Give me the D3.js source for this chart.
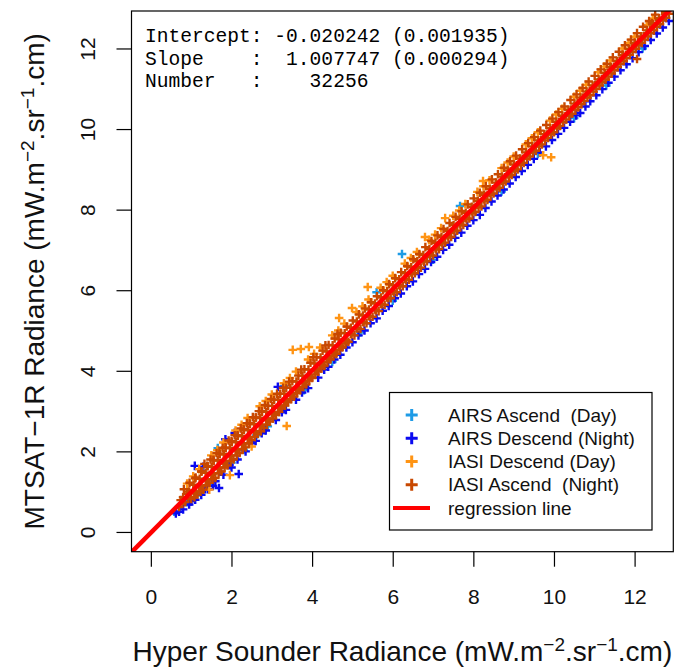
<!DOCTYPE html>
<html>
<head>
<meta charset="utf-8">
<script src="https://cdn.jsdelivr.net/npm/d3@7"></script>
<style>
  body { margin: 0; background: #fff; }
  svg { display: block; font-family: "Liberation Sans", Arial, sans-serif; }
</style>
</head>
<body>
<svg id="chart" width="675" height="667"></svg>
<script>
// regression summary shown in the top-left corner
const intercept = -0.020242, interceptSE = 0.001935;
const slope = 1.007747, slopeSE = 0.000294;
const nPoints = 32256;

const xTicks = [0, 2, 4, 6, 8, 10, 12];
const yTicks = [0, 2, 4, 6, 8, 10, 12];

const seriesNames = ["AIRS Ascend  (Day)", "AIRS Descend (Night)", "IASI Descend (Day)", "IASI Ascend  (Night)"];
const seriesColors = ["#1e9be6", "#0a0af0", "#ff9414", "#c84800"];

// points (hyper sounder, MTSAT-1R)
const airsAscend = [
  [0.58,0.5],[0.72,0.6],[0.9,0.74],[1.4,1.15],[1.66,2.08],[1.5,1.26],[2.3,2.04],[2.62,2.4],[2.9,2.62],
  [3.3,3.62],[3.8,3.52],[4.5,4.22],[5.2,4.95],[5.6,5.95],[6.0,5.74],[6.23,6.9],[7.0,6.76],[7.67,8.09],
  [8.7,8.45],[9.6,9.38],[10.5,10.27],[11.3,11.08],[12.2,12.0],[1.2,0.98],[2.0,1.72]
];
const airsDescend = [
  [0.62,0.46],[0.8,0.56],[0.95,0.68],[1.1,0.8],[1.25,0.92],[1.42,1.06],[1.54,1.14],[1.69,1.09],[1.6,1.26],
  [1.8,1.42],[2.0,1.6],[2.18,1.44],[2.15,1.8],[2.35,2.0],[2.6,2.26],[2.85,2.52],[3.1,2.78],[3.35,3.03],
  [3.6,3.28],[3.9,3.57],[4.15,3.83],[4.4,4.1],[4.7,4.4],[5.0,4.71],[5.3,5.0],[5.6,5.3],[5.9,5.61],
  [6.2,5.92],[6.5,6.22],[6.8,6.53],[7.1,6.83],[7.4,7.13],[7.7,7.43],[8.0,7.74],[8.16,7.87],[8.3,8.04],
  [8.6,8.35],[8.9,8.65],[9.2,8.96],[9.5,9.26],[9.8,9.57],[10.1,9.88],[10.4,10.18],[10.65,10.4],[10.9,10.69],
  [11.2,10.99],[11.5,11.3],[11.8,11.61],[12.1,11.91],[12.4,12.21],[12.7,12.52],
  [1.09,1.64],[2.08,2.46],[3.15,3.6],[1.85,2.3],[1.3,1.62],
  [0.7,0.5],[1.0,0.76],[1.35,1.06],[1.95,1.66],[2.5,2.2],[2.75,2.45],[3.25,2.97],[3.75,3.46],[4.3,4.03],
  [4.55,4.28],[4.85,4.58],[5.15,4.88],[5.45,5.18],[5.75,5.49],[6.05,5.8],[6.35,6.1],[6.65,6.4],[6.95,6.7],
  [7.25,7.0],[7.55,7.3],[7.85,7.6],[8.45,8.2],[8.75,8.5],[9.05,8.81],[9.35,9.11],[9.65,9.42],[9.95,9.73],
  [10.25,10.03],[10.55,10.34],[10.78,10.56],[11.05,10.84],[11.35,11.15],[11.65,11.46],[11.95,11.76],
  [12.25,12.06],[12.55,12.37],[12.85,12.68]
];
const iasiDescend = [
  [0.9,1.2],[1.2,1.56],[1.5,1.9],[1.8,2.22],[2.1,2.52],[2.4,2.83],[2.7,3.12],[3.0,3.41],[3.3,3.69],
  [3.52,4.52],[3.72,4.54],[3.92,4.59],[3.6,3.98],[3.9,4.28],[4.2,4.58],[4.5,4.88],[4.67,5.31],[4.8,5.17],
  [4.99,5.56],[5.1,5.46],[5.38,6.08],[5.4,5.77],[5.7,6.06],[6.0,6.36],[6.3,6.66],[6.6,6.95],[6.8,7.32],
  [6.9,7.25],[7.2,7.54],[7.3,7.79],[7.5,7.85],[7.8,8.14],[8.1,8.44],[8.24,8.71],[8.4,8.73],[8.7,9.03],
  [9.0,9.32],[9.3,9.62],[9.6,9.92],[9.73,9.35],[9.93,9.3],[9.9,10.21],[10.2,10.5],[10.5,10.8],[10.8,11.1],
  [11.1,11.41],[11.4,11.7],[11.7,12.0],[12.0,12.29],[12.3,12.58],[3.37,2.63],[1.96,1.41],[2.5,2.12],[1.45,1.05],
  [1.05,1.38],[1.65,2.03],[2.25,2.66],[2.85,3.25],[3.45,3.82],[4.05,4.42],[4.65,5.0],[5.25,5.6],[5.85,6.2],
  [6.45,6.8],[7.05,7.38],[7.65,7.98],[8.25,8.58],[8.85,9.17],[9.45,9.77],[10.05,10.36],[10.65,10.95],
  [11.25,11.55],[11.85,12.14],[12.45,12.74]
];
const iasiAscend = [
  [0.7,0.62],[0.74,0.79],
  [0.85,0.74],[0.9,0.95],[0.82,1.06],
  [1.0,0.82],[1.05,1.03],[0.96,1.22],
  [1.15,0.93],[1.2,1.13],[1.11,1.35],
  [1.3,1.05],[1.36,1.28],[1.26,1.5],[1.33,1.69],
  [1.45,1.22],[1.5,1.42],[1.41,1.63],[1.48,1.8],
  [1.6,1.34],[1.66,1.57],[1.56,1.77],[1.63,1.96],
  [1.75,1.5],[1.8,1.7],[1.71,1.93],[1.78,2.09],
  [1.9,1.65],[1.96,1.88],[1.86,2.08],[1.93,2.27],
  [2.05,1.8],[2.1,2.02],[2.01,2.23],[2.08,2.4],
  [2.2,1.96],[2.26,2.17],[2.16,2.38],[2.23,2.57],
  [2.35,2.1],[2.4,2.32],[2.31,2.53],[2.38,2.7],
  [2.5,2.28],[2.56,2.48],[2.46,2.68],[2.53,2.85],
  [2.65,2.43],[2.7,2.63],[2.61,2.84],[2.68,3.0],
  [2.8,2.58],[2.86,2.78],[2.76,2.98],[2.83,3.15],
  [2.95,2.74],[3.0,2.94],[2.91,3.13],[2.98,3.3],
  [3.1,2.9],[3.16,3.08],[3.06,3.28],[3.13,3.43],
  [3.25,3.06],[3.3,3.24],[3.21,3.43],[3.28,3.58],
  [3.4,3.22],[3.46,3.4],[3.36,3.58],[3.43,3.73],
  [3.55,3.36],[3.6,3.54],[3.51,3.74],
  [3.7,3.52],[3.76,3.7],[3.66,3.88],[3.73,4.03],
  [3.85,3.66],[3.9,3.86],[3.81,4.04],
  [4.0,3.82],[4.06,4.0],[3.96,4.2],[4.03,4.34],
  [4.15,3.98],[4.2,4.16],[4.11,4.34],
  [4.3,4.12],[4.36,4.3],[4.26,4.5],[4.33,4.63],
  [4.45,4.28],[4.5,4.46],[4.41,4.64],
  [4.6,4.42],[4.66,4.6],[4.56,4.8],[4.63,4.92],
  [4.75,4.58],[4.8,4.76],[4.71,4.94],
  [4.9,4.72],[4.96,4.92],[4.86,5.1],
  [5.05,4.88],[5.1,5.06],[5.01,5.25],
  [5.2,5.04],[5.26,5.22],[5.16,5.4],
  [5.35,5.18],[5.4,5.36],[5.31,5.55],
  [5.5,5.34],[5.56,5.52],[5.46,5.7],
  [5.65,5.48],[5.7,5.66],[5.61,5.85],
  [5.8,5.64],[5.86,5.82],[5.76,6.0],
  [5.95,5.8],[6.0,5.98],[5.91,6.15],
  [6.1,5.95],[6.16,6.13],[6.06,6.3],
  [6.25,6.1],[6.3,6.28],[6.21,6.45],
  [6.4,6.26],[6.46,6.44],[6.36,6.6],
  [6.55,6.42],[6.6,6.58],[6.51,6.77],
  [6.7,6.56],[6.76,6.74],[6.66,6.9],
  [6.85,6.72],[6.9,6.9],[6.81,7.07],
  [7.0,6.86],[7.06,7.04],[6.96,7.22],
  [7.15,7.02],[7.2,7.2],[7.11,7.36],
  [7.3,7.18],[7.36,7.36],[7.26,7.52],
  [7.45,7.32],[7.5,7.5],[7.41,7.67],
  [7.6,7.48],[7.66,7.66],[7.56,7.82],
  [7.75,7.62],[7.8,7.8],[7.71,7.96],
  [7.9,7.78],[7.96,7.96],[7.86,8.13],
  [8.05,7.94],[8.1,8.12],[8.01,8.28],
  [8.2,8.08],[8.26,8.26],[8.16,8.42],
  [8.35,8.24],[8.4,8.42],[8.31,8.58],
  [8.5,8.4],[8.56,8.58],[8.46,8.75],
  [8.65,8.54],[8.7,8.72],[8.61,8.88],
  [8.8,8.7],[8.86,8.88],[8.76,9.04],
  [8.95,8.86],[9.0,9.02],[8.91,9.2],
  [9.1,9.0],[9.16,9.18],[9.06,9.34],
  [9.25,9.16],[9.3,9.34],[9.21,9.5],
  [9.4,9.32],[9.46,9.48],[9.36,9.65],
  [9.55,9.46],[9.6,9.64],[9.51,9.8],
  [9.7,9.62],[9.76,9.8],[9.66,9.96],
  [9.85,9.78],[9.9,9.94],[9.81,10.1],
  [10.0,9.92],[10.06,10.1],[9.96,10.26],
  [10.15,10.08],[10.2,10.26],[10.11,10.42],
  [10.3,10.24],[10.36,10.4],[10.26,10.56],
  [10.45,10.38],[10.5,10.56],[10.41,10.72],
  [10.6,10.54],[10.66,10.72],[10.56,10.86],
  [10.75,10.7],[10.8,10.86],[10.71,11.02],
  [10.9,10.84],[10.96,11.02],[10.86,11.18],
  [11.05,11.0],[11.1,11.16],[11.01,11.32],
  [11.2,11.16],[11.26,11.32],[11.16,11.48],
  [11.35,11.3],[11.4,11.48],[11.31,11.62],
  [11.5,11.46],[11.56,11.62],[11.46,11.78],
  [11.65,11.62],[11.7,11.78],[11.61,11.92],
  [11.8,11.76],[11.86,11.92],[11.76,12.08],
  [11.95,11.92],[12.0,12.08],[11.91,12.22],
  [12.1,12.08],[12.16,12.24],[12.06,12.38],
  [12.25,12.22],[12.3,12.38],[12.21,12.54],
  [12.4,12.38],[12.46,12.54],[12.36,12.68],
  [12.55,12.54],[12.6,12.7],[12.51,12.84],
  [12.7,12.7],[12.76,12.86],[12.85,12.86],
  [12.06,11.74],[12.43,12.63],
  // in-between columns
  [0.78,0.7],[0.8,0.86],
  [0.93,0.84],[0.95,1.0],
  [1.08,0.86],[1.1,1.0],[1.06,1.17],[1.1,1.33],
  [1.23,1.0],[1.25,1.14],[1.21,1.32],[1.25,1.5],
  [1.38,1.16],[1.4,1.3],[1.36,1.47],[1.4,1.64],
  [1.53,1.31],[1.55,1.45],[1.51,1.62],[1.55,1.79],
  [1.68,1.46],[1.7,1.6],[1.66,1.78],[1.7,1.95],
  [1.83,1.6],[1.85,1.76],[1.81,1.93],[1.85,2.1],
  [1.98,1.76],[2.0,1.9],[1.96,2.08],[2.0,2.25],
  [2.13,1.9],[2.15,2.05],[2.11,2.23],[2.15,2.4],
  [2.28,2.06],[2.3,2.2],[2.26,2.38],[2.3,2.55],
  [2.43,2.2],[2.45,2.35],[2.41,2.53],[2.45,2.7],
  [2.58,2.36],[2.6,2.5],[2.56,2.68],[2.6,2.84],
  [2.73,2.5],[2.75,2.66],[2.71,2.83],[2.75,3.0],
  [2.88,2.66],[2.9,2.8],[2.86,2.98],
  [3.03,2.82],[3.05,2.96],[3.01,3.13],
  [3.18,2.98],[3.2,3.1],[3.16,3.28],
  [3.33,3.14],[3.35,3.26],[3.31,3.43],
  [3.48,3.3],[3.5,3.42],[3.46,3.58],
  [3.63,3.45],[3.65,3.56],[3.61,3.73],
  [3.78,3.6],[3.8,3.72],[3.76,3.88],
  [3.93,3.76],[3.95,3.86],[3.91,4.03],
  [4.08,3.91],[4.1,4.02],[4.06,4.18],
  [4.23,4.06],[4.25,4.16],[4.21,4.33],
  [4.38,4.22],[4.4,4.32],[4.36,4.48],
  [4.53,4.37],[4.55,4.46],[4.51,4.63],
  [4.68,4.52],[4.7,4.62],[4.66,4.78],
  [4.83,4.68],[4.85,4.76],[4.81,4.93],
  [4.98,4.9],[4.96,5.07],[5.13,5.05],[5.11,5.22],[5.28,5.2],[5.26,5.37],
  [5.43,5.35],[5.41,5.52],[5.58,5.5],[5.56,5.67],[5.73,5.65],[5.71,5.82],
  [5.88,5.8],[5.86,5.97],[6.03,5.95],[6.01,6.12],[6.18,6.1],[6.16,6.27],
  [6.33,6.25],[6.31,6.42],[6.48,6.4],[6.46,6.57],[6.63,6.56],[6.61,6.72],
  [6.78,6.71],[6.76,6.87],[6.93,6.86],[6.91,7.02],[7.08,7.01],[7.06,7.17],
  [7.23,7.16],[7.21,7.32],[7.38,7.31],[7.36,7.47],[7.53,7.46],[7.51,7.62],
  [7.68,7.61],[7.66,7.77],[7.83,7.76],[7.81,7.92],[7.98,7.91],[7.96,8.07],
  [8.13,8.06],[8.11,8.22],[8.28,8.21],[8.26,8.37],[8.43,8.36],[8.41,8.52],
  [8.58,8.51],[8.56,8.67],[8.73,8.66],[8.71,8.82],[8.88,8.81],[8.86,8.97],
  [9.03,8.96],[9.01,9.12],[9.18,9.11],[9.16,9.27],[9.33,9.26],[9.31,9.42],
  [9.48,9.42],[9.46,9.57],[9.63,9.57],[9.61,9.72],[9.78,9.72],[9.76,9.87],
  [9.93,9.87],[9.91,10.02],[10.08,10.02],[10.06,10.18],[10.23,10.17],[10.21,10.33],
  [10.38,10.32],[10.36,10.48],[10.53,10.47],[10.51,10.63],[10.68,10.62],[10.66,10.78],
  [10.83,10.78],[10.81,10.93],[10.98,10.93],[10.96,11.08],[11.13,11.08],[11.11,11.23],
  [11.28,11.23],[11.26,11.39],[11.43,11.38],[11.41,11.54],[11.58,11.54],[11.56,11.69],
  [11.73,11.69],[11.71,11.84],[11.88,11.84],[11.86,11.99],[12.03,11.99],[12.01,12.14],
  [12.18,12.14],[12.16,12.3],[12.33,12.3],[12.31,12.45],[12.48,12.45],[12.46,12.6],
  [12.63,12.6],[12.61,12.75],[12.78,12.76],[12.76,12.9]
];

const series = [airsAscend, airsDescend, iasiDescend, iasiAscend];

const svg = d3.select("#chart");
const plot = { left: 131.5, top: 11, right: 673.3, bottom: 551.7 };

const x = d3.scaleLinear().domain([-0.48, 12.96]).range([plot.left, plot.right]);
const y = d3.scaleLinear().domain([-0.49, 12.93]).range([plot.bottom, plot.top]);

svg.append("defs").append("clipPath").attr("id", "clip")
  .append("rect")
  .attr("x", plot.left).attr("y", plot.top)
  .attr("width", plot.right - plot.left).attr("height", plot.bottom - plot.top);

const cross = "M-4.3,0H4.3M0,-4.3V4.3";

// points, drawn in the same order as the legend
const pts = svg.append("g").attr("clip-path", "url(#clip)");
series.forEach((data, i) => {
  pts.append("g")
    .selectAll("path")
    .data(data)
    .enter()
    .append("path")
    .attr("d", cross)
    .attr("transform", (d) => `translate(${x(d[0])},${y(d[1])})`)
    .attr("stroke", seriesColors[i])
    .attr("stroke-width", 2.4)
    .attr("fill", "none");
});

// regression line
const xd = x.domain();
pts.append("line")
  .attr("x1", x(xd[0])).attr("y1", y(intercept + slope * xd[0]))
  .attr("x2", x(xd[1])).attr("y2", y(intercept + slope * xd[1]))
  .attr("stroke", "#ff0000")
  .attr("stroke-width", 4.5);

// frame
svg.append("rect")
  .attr("x", plot.left).attr("y", plot.top)
  .attr("width", plot.right - plot.left).attr("height", plot.bottom - plot.top)
  .attr("fill", "none").attr("stroke", "#000").attr("stroke-width", 1.2);

// axes
const xAxis = svg.append("g")
  .attr("transform", `translate(0,${plot.bottom})`)
  .call(d3.axisBottom(x).tickValues(xTicks).tickSize(15).tickPadding(22).tickFormat(d3.format("d")));
const yAxis = svg.append("g")
  .attr("transform", `translate(${plot.left},0)`)
  .call(d3.axisLeft(y).tickValues(yTicks).tickSize(15).tickFormat(d3.format("d")));

[xAxis, yAxis].forEach((g) => {
  g.select(".domain").remove();
  g.selectAll("line").attr("stroke", "#000").attr("stroke-width", 1.2);
  g.selectAll("text")
    .attr("fill", "#111")
    .style("font-family", "Liberation Sans, Arial, sans-serif")
    .style("font-size", "21px");
});
yAxis.selectAll("text")
  .attr("x", null).attr("dy", null)
  .attr("text-anchor", "middle")
  .attr("transform", "translate(-37,0) rotate(-90)");

// axis titles with superscripts
function addTitle(g, parts) {
  const t = g.append("text")
    .attr("text-anchor", "middle")
    .attr("fill", "#111")
    .style("font-size", "28px");
  let raised = false;
  parts.forEach(([s, sup]) => {
    const span = t.append("tspan").text(s);
    if (sup) {
      span.attr("dy", -10.5).style("font-size", "19px");
      raised = true;
    } else if (raised) {
      span.attr("dy", 10.5);
      raised = false;
    }
  });
  return t;
}

const xTitle = svg.append("g").attr("transform", `translate(${(plot.left + plot.right) / 2},661)`);
addTitle(xTitle, [["Hyper Sounder Radiance (mW.m"], ["\u22122", true], [".sr"], ["\u22121", true], [".cm)"]]);

const yTitle = svg.append("g").attr("transform", `translate(44,${(plot.top + plot.bottom) / 2}) rotate(-90)`);
addTitle(yTitle, [["MTSAT\u22121R Radiance (mW.m"], ["\u22122", true], [".sr"], ["\u22121", true], [".cm)"]]);

// regression stats
const stats = [
  `Intercept: ${intercept.toFixed(6)} (${interceptSE.toFixed(6)})`,
  `Slope    :  ${slope.toFixed(6)} (${slopeSE.toFixed(6)})`,
  `Number   :    ${nPoints}`
];
svg.append("g")
  .selectAll("text")
  .data(stats)
  .enter()
  .append("text")
  .attr("x", 145)
  .attr("y", (d, i) => 42 + i * 22.7)
  .attr("xml:space", "preserve")
  .style("white-space", "pre")
  .style("font-family", "Liberation Mono, Courier New, monospace")
  .style("font-size", "19.6px")
  .attr("fill", "#000")
  .text((d) => d);

// legend
const legend = svg.append("g");
legend.append("rect")
  .attr("x", 389.5).attr("y", 392.5)
  .attr("width", 262.5).attr("height", 137.5)
  .attr("fill", "#fff").attr("stroke", "#000").attr("stroke-width", 1.2);

const rowY = (i) => 415 + i * 23.25;
const items = legend.selectAll("g.item")
  .data(seriesNames)
  .enter()
  .append("g")
  .attr("class", "item")
  .attr("transform", (d, i) => `translate(0,${rowY(i)})`);
items.append("path")
  .attr("d", "M-6,0H6M0,-6V6")
  .attr("transform", "translate(411.7,0)")
  .attr("stroke", (d, i) => seriesColors[i])
  .attr("stroke-width", 3)
  .attr("fill", "none");
items.append("text")
  .attr("x", 448)
  .attr("dy", "0.35em")
  .attr("xml:space", "preserve")
  .style("white-space", "pre")
  .style("font-size", "19px")
  .attr("fill", "#111")
  .text((d) => d);

legend.append("line")
  .attr("x1", 393).attr("x2", 430)
  .attr("y1", rowY(4)).attr("y2", rowY(4))
  .attr("stroke", "#ff0000").attr("stroke-width", 4);
legend.append("text")
  .attr("x", 448).attr("y", rowY(4)).attr("dy", "0.35em")
  .style("font-size", "19px")
  .attr("fill", "#111")
  .text("regression line");
</script>
</body>
</html>
